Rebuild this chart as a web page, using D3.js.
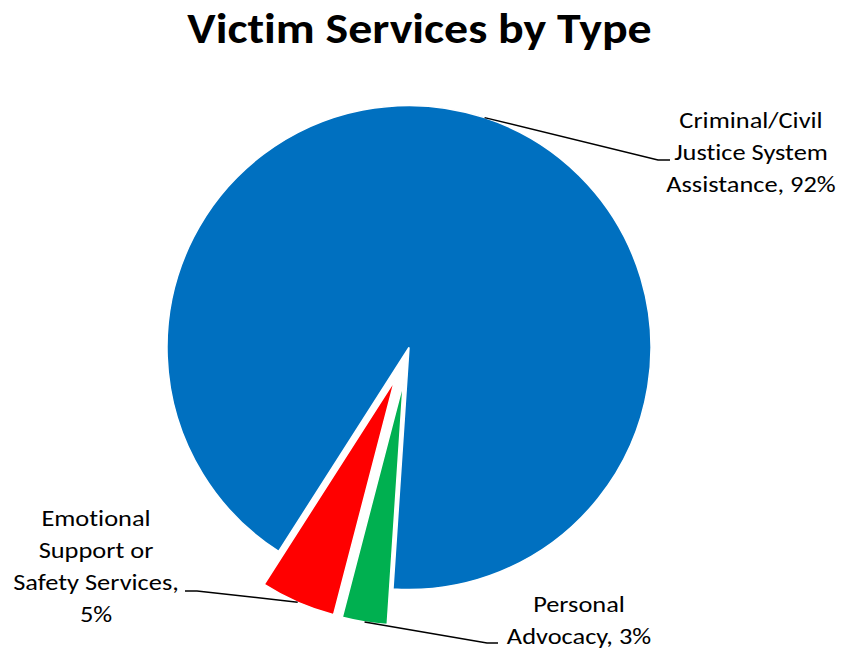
<!DOCTYPE html>
<html>
<head>
<meta charset="utf-8">
<script src="https://cdn.jsdelivr.net/npm/d3@7"></script>
<style>
  html, body { margin: 0; padding: 0; background: #fff; }
  svg { display: block; }
  text { font-variant-ligatures: none; font-feature-settings: "liga" 0; }
</style>
</head>
<body>
<svg id="chart" width="842" height="649"></svg>
<script>
// Service categories and their shares (percent)
const categories = [
  "Criminal/Civil Justice System Assistance",
  "Personal Advocacy",
  "Emotional Support or Safety Services"
];
const shares = [92, 3, 5];
// Label text lines for each category (with value appended)
const labelLines = [
  ["Criminal/Civil", "Justice System", "Assistance, 92%"],
  ["Personal", "Advocacy, 3%"],
  ["Emotional", "Support or", "Safety Services,", "5%"]
];
const titleText = "Victim Services by Type";
const colors = ["#0070C0", "#00B050", "#FF0000"];
const exploded = [false, true, true];

// Layout
const W = 842, H = 649;
const cx = 409, cy = 347.5, radius = 242, explodeDist = 36;
const startDeg = 212.6;
const fontFamily = "Calibri, Carlito, Lato, 'Open Sans', sans-serif";
const labelSize = 22, lineGap = 32, labelStretch = 1.2;
const titleSize = 42, titleStretch = 1.14;

// Label blocks: centre x, first-line centre y, leader elbow and end points
const labelLayout = [
  { x: 751, y: 120, elbow: [658, 160], end: [670, 160] },
  { x: 579, y: 604, elbow: [487, 643], end: [498, 643] },
  { x: 96,  y: 518, elbow: [197, 591], end: [185, 591] }
];

const svg = d3.select("#chart");

// Title, widened horizontally around its centre
svg.append("g")
  .attr("transform", `translate(419.5,43) scale(${titleStretch},1)`)
  .append("text")
  .attr("text-anchor", "middle")
  .attr("font-family", fontFamily)
  .attr("font-weight", "bold")
  .attr("font-size", titleSize)
  .attr("fill", "#000")
  .text(titleText);

const a0 = startDeg * Math.PI / 180;
const pie = d3.pie().sort(null).startAngle(a0).endAngle(a0 + 2 * Math.PI);
const arcs = pie(shares);
const arc = d3.arc().innerRadius(0).outerRadius(radius);

function offsetOf(d, i) {
  if (!exploded[i]) return [0, 0];
  const m = (d.startAngle + d.endAngle) / 2;
  return [explodeDist * Math.sin(m), -explodeDist * Math.cos(m)];
}

const g = svg.append("g").attr("transform", `translate(${cx},${cy})`);

g.selectAll("path.slice")
  .data(arcs)
  .join("path")
  .attr("class", "slice")
  .attr("transform", (d, i) => {
    const o = offsetOf(d, i);
    return `translate(${o[0]},${o[1]})`;
  })
  .attr("d", arc)
  .attr("fill", (d, i) => colors[i])
  .attr("stroke", "#fff")
  .attr("stroke-width", 1.5)
  .attr("stroke-linejoin", "miter");

// Leader lines: from the slice's outer mid-point to the label
arcs.forEach((d, i) => {
  const o = offsetOf(d, i);
  const m = (d.startAngle + d.endAngle) / 2;
  const sx = cx + o[0] + radius * Math.sin(m);
  const sy = cy + o[1] - radius * Math.cos(m);
  const L = labelLayout[i];
  svg.append("polyline")
    .attr("points", [[sx, sy], L.elbow, L.end].map(p => p.join(",")).join(" "))
    .attr("fill", "none")
    .attr("stroke", "#000")
    .attr("stroke-width", 1.5);

  const t = svg.append("g")
    .attr("transform", `translate(${L.x},${L.y}) scale(${labelStretch},1)`)
    .append("text")
    .attr("text-anchor", "middle")
    .attr("font-family", fontFamily)
    .attr("font-size", labelSize)
    .attr("fill", "#000");
  labelLines[i].forEach((line, k) => {
    t.append("tspan")
      .attr("x", 0)
      .attr("y", k * lineGap + labelSize * 0.36)
      .text(line);
  });
});
</script>
</body>
</html>
